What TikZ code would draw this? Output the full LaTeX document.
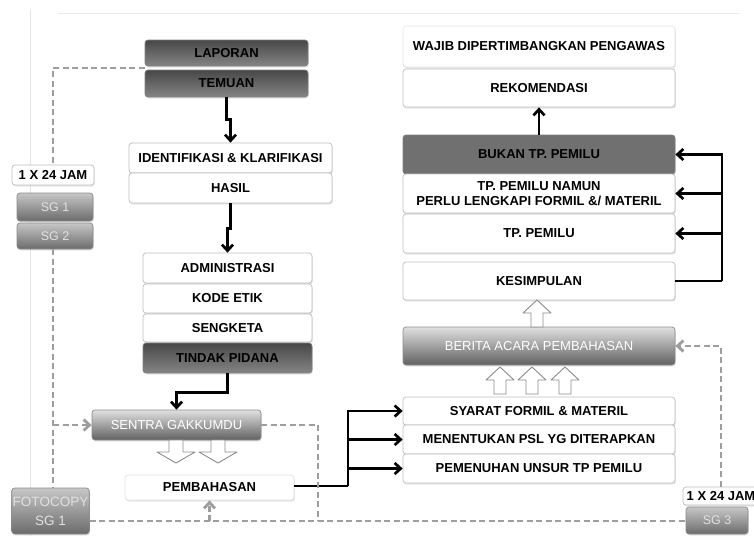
\documentclass[tikz,border=0pt]{standalone}
\usepackage{fontspec}
\setmainfont{Liberation Sans}
\usetikzlibrary{arrows.meta,shadows,calc}
\begin{document}
\begin{tikzpicture}[x=1pt,y=-1pt,
  base/.style={rounded corners=3pt, inner sep=1pt, align=center,
    font=\bfseries\fontsize{13}{15.5}\selectfont,
    drop shadow={opacity=0.2,shadow xshift=0.8pt,shadow yshift=-1.6pt}},
  wbox/.style={base, draw=black!25, line width=0.7pt, fill=white, text=black},
  dbox/.style={base, draw=black!50, line width=0.7pt, top color=black!72, bottom color=black!48, text=black},
  fbox/.style={base, draw=black!50, line width=0.7pt, fill=black!56, text=black},
  gbox/.style={base, draw=black!45, line width=0.7pt, top color=black!12, bottom color=black!62, text=white,
    font=\fontsize{13}{15}\selectfont},
  sgbox/.style={base, draw=black!45, line width=0.7pt, top color=black!22, bottom color=black!58, text=black!12,
    font=\fontsize{12.5}{14}\selectfont},
  bline/.style={line width=2.7pt, black},
  barr/.style={bline, -{Straight Barb[length=6pt,width=11pt]}},
  gdash/.style={line width=2.8pt, black!38, dash pattern=on 6pt off 3.5pt},
  garr/.style={gdash, -{Straight Barb[length=6pt,width=11pt]}},
  blockdown/.pic={\draw[black!45,fill=white,line width=0.9pt,line join=round]
     (-7,-12)--(7,-12)--(7,0)--(19,0)--(0,11)--(-19,0)--(-7,0)--cycle;},
  blockup/.pic={\draw[black!45,fill=white,line width=0.9pt,line join=round]
     (-6,14)--(6,14)--(6,0)--(14,0)--(0,-13)--(-14,0)--(-6,0)--cycle;}
]
\useasboundingbox (0,0) rectangle (754,536);
% faint frame lines
\draw[black!10, line width=1pt] (30,10) -- (30,536);
\draw[black!8, line width=1pt] (58,13) -- (740,13);

% left column
\node[dbox, minimum width=163pt, minimum height=26pt] (lap) at (226.5,53) {LAPORAN};
\node[dbox, minimum width=163pt, minimum height=27pt] (tem) at (226.5,83.5) {TEMUAN};
\node[wbox, minimum width=203pt, minimum height=30pt] (ident) at (230.5,158) {IDENTIFIKASI \& KLARIFIKASI};
\node[wbox, minimum width=203pt, minimum height=30pt] (hasil) at (230.5,188) {HASIL};
\node[wbox, minimum width=169pt, minimum height=30pt] (adm) at (227.5,268) {ADMINISTRASI};
\node[wbox, minimum width=169pt, minimum height=29pt] (kode) at (227.5,298.5) {KODE ETIK};
\node[wbox, minimum width=169pt, minimum height=28pt] (seng) at (227.5,328) {SENGKETA};
\node[dbox, minimum width=169pt, minimum height=30pt] (tindak) at (227.5,358) {TINDAK PIDANA};
\node[gbox, minimum width=169pt, minimum height=30pt] (sentra) at (176.5,425) {SENTRA GAKKUMDU};
\node[wbox, draw=black!12, minimum width=169pt, minimum height=25pt] (pemb) at (209.5,487.5) {PEMBAHASAN};

% small left boxes
\node[wbox, minimum width=82pt, minimum height=20pt] (jam1) at (53,175) {1 X 24 JAM};
\node[sgbox, minimum width=76pt, minimum height=28pt] (sg1) at (55,207) {SG 1};
\node[sgbox, minimum width=76pt, minimum height=26pt] (sg2) at (55,236) {SG 2};
\node[sgbox, minimum width=77pt, minimum height=46pt, font=\fontsize{13.5}{19}\selectfont] (foto) at (50.5,511) {FOTOCOPY\\SG 1};

% right column
\node[wbox, draw=black!10, minimum width=272pt, minimum height=41pt] (wajib) at (539,46.5) {WAJIB DIPERTIMBANGKAN PENGAWAS};
\node[wbox, minimum width=272pt, minimum height=38pt] (rekom) at (539,88) {REKOMENDASI};
\node[fbox, minimum width=272pt, minimum height=39pt] (bukan) at (539,154.5) {BUKAN TP. PEMILU};
\node[wbox, minimum width=272pt, minimum height=39pt] (tpn) at (539,193.5) {TP. PEMILU NAMUN\\PERLU LENGKAPI FORMIL \&/ MATERIL};
\node[wbox, minimum width=272pt, minimum height=39pt] (tp) at (539,233.5) {TP. PEMILU};
\node[wbox, minimum width=272pt, minimum height=38pt] (kesim) at (539,281) {KESIMPULAN};
\node[gbox, minimum width=272pt, minimum height=38pt] (berita) at (539,346) {BERITA ACARA PEMBAHASAN};
\node[wbox, minimum width=272pt, minimum height=28pt] (syarat) at (539,411) {SYARAT FORMIL \& MATERIL};
\node[wbox, minimum width=272pt, minimum height=29pt] (menent) at (539,439.5) {MENENTUKAN PSL YG DITERAPKAN};
\node[wbox, minimum width=272pt, minimum height=29pt] (pemen) at (539,468.5) {PEMENUHAN UNSUR TP PEMILU};

% small right boxes
\node[wbox, minimum width=76pt, minimum height=18pt] (jam2) at (721,496) {1 X 24 JAM};
\node[sgbox, minimum width=62pt, minimum height=27pt] (sg3) at (717,520.5) {SG 3};

% black connectors
\draw[barr] (tem.south) -- ++(0,22) -| (ident.north);
\draw[barr] (hasil.south) -- ++(0,25) -| (adm.north);
\draw[barr] (tindak.south) -- ++(0,19) -| (sentra.north);
\coordinate (j1) at (348,486);
\draw[bline] (pemb.east |- j1) -- (j1);
\draw[barr] (j1) |- (syarat.west);
\draw[barr] (j1) |- (menent.west);
\draw[barr] (j1) |- (pemen.west);
\coordinate (j2) at (722,281);
\draw[bline] (kesim.east) -- (j2);
\draw[barr] (j2) |- (bukan.east);
\draw[barr] (j2) |- (tpn.east);
\draw[barr] (j2) |- (tp.east);
\draw[barr] (bukan.north) -- (rekom.south);

% gray dashed connectors
\draw[gdash] ($(lap.south west)!.5!(tem.north west)$) -| (jam1.north);
\draw[gdash] (jam1.north |- sg2.south) -- (jam1.north |- foto.north);
\draw[garr] (jam1.north |- sentra.west) -- (sentra.west);
\coordinate (b1) at (318,521);
\draw[gdash] (sentra.east) -| (b1);
\draw[gdash] (foto.east |- b1) -- (b1 -| sg3.west);
\draw[garr] (pemb.south |- b1) -- (pemb.south);
\draw[garr] (jam2.north) |- (berita.east);

% block arrows
\pic at (176,452) {blockdown};
\pic at (218,452) {blockdown};
\pic at (500,380) {blockup};
\pic at (532,380) {blockup};
\pic at (565,380) {blockup};
\pic at (537,313) {blockup};
\end{tikzpicture}
\end{document}
